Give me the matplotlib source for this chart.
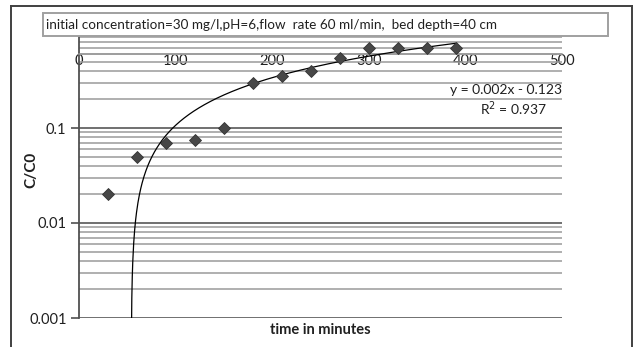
import matplotlib
matplotlib.use("Agg")
import matplotlib.pyplot as plt
import matplotlib.ticker as mticker
from matplotlib.patches import Rectangle
from matplotlib.lines import Line2D
import numpy as np

# breakthrough data
time_min = [30, 60, 90, 120, 150, 180, 210, 240, 270, 300, 330, 360, 390]
c_ratio = [0.02, 0.05, 0.07, 0.075, 0.1, 0.3, 0.35, 0.4, 0.55, 0.7, 0.7, 0.7, 0.69]

x_ticks = [0, 100, 200, 300, 400, 500]
y_ticks = [0.001, 0.01, 0.1, 1]

title = "initial concentration=30 mg/l,pH=6,flow  rate 60 ml/min,  bed depth=40 cm"
eq_text = "y = 0.002x - 0.123"
r2_text = "R$^2$ = 0.937"

plt.rcParams['font.family'] = ['Lato', 'DejaVu Sans']

W, H = 634, 347
fig = plt.figure(figsize=(W / 100, H / 100), dpi=100)

# plot area in pixels: x 79..562, y 33..318 (from top)
ax = fig.add_axes([79 / W, 1 - 318 / H, (562 - 79) / W, (318 - 33) / H])
ax.set_yscale('log')
ax.set_xlim(0, 500)
ax.set_ylim(0.001, 1)

# linear trendline (Excel style) fitted on the data, drawn on the log axis
slope, icept = np.polyfit(time_min, c_ratio, 1)
xt = np.linspace(0, max(time_min), 800)
yt = slope * xt + icept
yt = np.where(yt > 0, yt, np.nan)
ax.plot(xt, yt, color='black', lw=0.9, zorder=3)

ax.plot(time_min, c_ratio, linestyle='none', marker='D', markersize=6.2,
        markerfacecolor='#474747', markeredgecolor='#333333', markeredgewidth=0.6,
        zorder=4)

# gridlines
ax.yaxis.set_major_locator(mticker.FixedLocator(y_ticks))
ax.yaxis.set_minor_locator(mticker.LogLocator(base=10, subs=np.arange(2, 10)))
# the "1" label sits under the title box in the original, so leave it blank
ax.yaxis.set_major_formatter(mticker.FuncFormatter(lambda v, p: '' if v >= 1 else '%g' % v))
ax.yaxis.set_minor_formatter(mticker.NullFormatter())
ax.grid(True, which='major', axis='y', color='#707070', lw=1.4)
ax.grid(True, which='minor', axis='y', color='#9a9a9a', lw=1.1)
ax.set_axisbelow(True)

# x axis crosses near the top of the plot
ax.set_xticks(x_ticks)
ax.spines['bottom'].set_position(('data', 0.6))
ax.spines['bottom'].set_color('#9a9a9a')
ax.spines['bottom'].set_linewidth(1.1)
ax.spines['top'].set_visible(False)
ax.spines['right'].set_visible(False)
ax.spines['left'].set_color('#505050')
ax.spines['left'].set_linewidth(1.3)

ax.tick_params(axis='x', length=0, pad=0, labelsize=10.5, labelcolor='#202020')
ax.tick_params(axis='y', which='major', length=6, width=1.2, color='#505050',
               pad=3, labelsize=10.5, labelcolor='#202020')
ax.tick_params(axis='y', which='minor', length=0)

ax.set_xlabel('time in minutes', fontsize=10.5, fontweight='bold', color='#202020')
ax.xaxis.set_label_coords(0.5, -0.018)
ax.set_ylabel('C/C0', fontsize=11, fontweight='bold', color='#202020')
ax.yaxis.set_label_coords(-0.085, 0.52)

ax.text(1.0, 0.80, eq_text, transform=ax.transAxes, ha='right', va='center',
        fontsize=10, color='#202020')
ax.text(0.97, 0.735, r2_text, transform=ax.transAxes, ha='right', va='center',
        fontsize=10, color='#202020')

# title box drawn over the top of the plot area
fig.add_artist(Rectangle((43 / W, 1 - 36 / H), (608 - 43) / W, 23 / H,
                         transform=fig.transFigure, facecolor='white',
                         edgecolor='#a0a0a0', lw=1.4, zorder=5))
fig.text(46 / W, 1 - 25 / H, title, fontsize=9.7, color='#202020',
         ha='left', va='center', zorder=6)

# outer chart frame (left, top, right)
fc = '#404040'
fig.add_artist(Line2D([11 / W, 11 / W], [0, 1 - 6 / H], color=fc, lw=1.4))
fig.add_artist(Line2D([11 / W, 632 / W], [1 - 6 / H, 1 - 6 / H], color=fc, lw=1.4))
fig.add_artist(Line2D([632 / W, 632 / W], [0, 1 - 6 / H], color=fc, lw=1.4))

fig.savefig('out.png', dpi=100)
